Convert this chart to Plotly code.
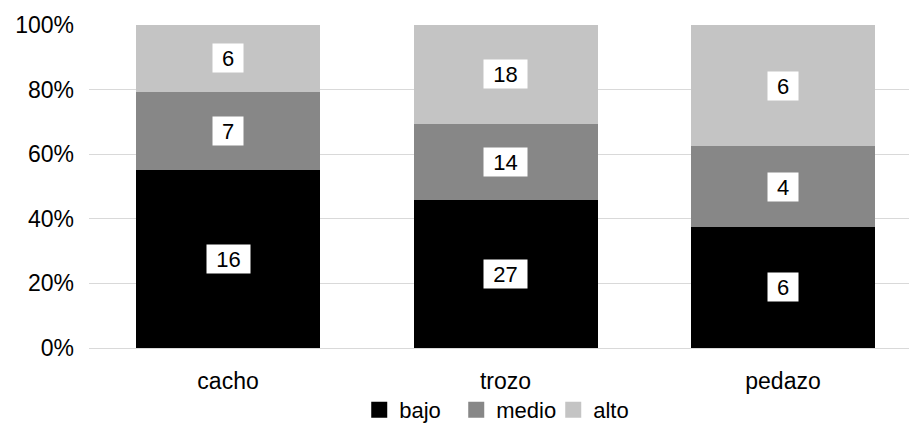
import plotly.graph_objects as go

categories = ["cacho", "trozo", "pedazo"]
series_names = ["bajo", "medio", "alto"]
bajo = [16, 27, 6]
medio = [7, 14, 4]
alto = [6, 18, 6]
colors = ["#000000", "#878787", "#c4c4c4"]
tick_vals = [0, 20, 40, 60, 80, 100]
tick_text = ["0%", "20%", "40%", "60%", "80%", "100%"]

series = [bajo, medio, alto]
totals = [sum(v) for v in zip(*series)]
pct = [[v / t * 100 for v, t in zip(s, totals)] for s in series]

FONT = "Liberation Sans, Arial, sans-serif"

fig = go.Figure()
for name, p, c in zip(series_names, pct, colors):
    fig.add_trace(go.Bar(x=categories, y=p, name=name, marker=dict(color=c, line=dict(width=0)),
                         hoverinfo="skip", showlegend=False))
    fig.add_trace(go.Scatter(x=[None], y=[None], mode="markers", name=name, hoverinfo="skip",
                             marker=dict(symbol="square", size=16, color=c), showlegend=True))

annotations = []
base = [0, 0, 0]
for s, p in zip(series, pct):
    for i, cat in enumerate(categories):
        txt = str(s[i])
        annotations.append(dict(x=cat, y=base[i] + p[i] / 2, text=txt, showarrow=False,
                                bgcolor="white", font=dict(size=22, color="black", family=FONT),
                                width=13 * len(txt) + 17, height=28, borderpad=0,
                                xref="x", yref="y"))
        base[i] += p[i]

fig.update_layout(
    barmode="stack",
    bargap=0.337,
    width=909, height=424,
    margin=dict(l=89, r=0, t=25, b=76),
    plot_bgcolor="white", paper_bgcolor="white",
    font=dict(family=FONT, size=23, color="#000000"),
    yaxis=dict(range=[0, 100], tickvals=tick_vals, ticktext=tick_text, showgrid=True,
               gridcolor="#d9d9d9", gridwidth=1, zeroline=False, showline=False, ticks="",
               ticklabelstandoff=14, fixedrange=True, automargin=False),
    xaxis=dict(range=[-0.501, 2.454], showline=True, linecolor="#d9d9d9", ticks="",
               ticklabelstandoff=12, fixedrange=True, automargin=False),
    legend=dict(orientation="h", x=0.507, xanchor="center", yref="container", y=0.033,
                yanchor="middle", font=dict(size=22), entrywidth=52, entrywidthmode="pixels",
                traceorder="normal"),
    annotations=annotations,
    showlegend=True,
)
fig.write_html("out.html", post_script="document.body.style.margin='0';",
               config={"displayModeBar": False, "staticPlot": True})
